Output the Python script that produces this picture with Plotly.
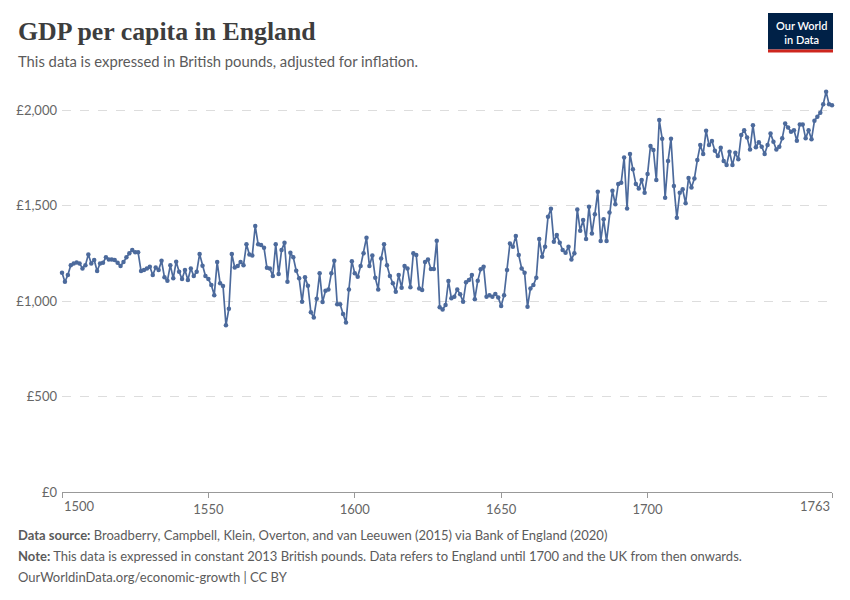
import plotly.graph_objects as go

# ---- data ----
years = list(range(1500, 1764))
gdp_per_capita = [
    1148, 1101, 1136, 1188, 1197, 1202, 1197, 1171, 1188, 1244,
    1197, 1215, 1157, 1197, 1200, 1229, 1218, 1218, 1215, 1200,
    1183, 1205, 1229, 1250, 1267, 1255, 1255, 1157, 1162, 1171,
    1180, 1136, 1176, 1162, 1211, 1124, 1106, 1188, 1119, 1206,
    1153, 1115, 1162, 1110, 1171, 1131, 1153, 1246, 1185, 1131,
    1115, 1084, 1031, 1204, 1093, 1079, 873, 960, 1246, 1176,
    1183, 1204, 1188, 1297, 1244, 1239, 1393, 1297, 1293, 1279,
    1174, 1171, 1131, 1297, 1141, 1267, 1305, 1101, 1253, 1229,
    1159, 1119, 996, 1124, 1080, 941, 914, 1012, 1145, 995,
    1054, 1061, 1145, 1211, 983, 983, 932, 888, 1061, 1209,
    1145, 1127, 1183, 1250, 1332, 1183, 1239, 1122, 1061, 1223,
    1298, 1187, 1131, 1093, 1049, 1136, 1070, 1183, 1171, 1072,
    1250, 1241, 1066, 1058, 1204, 1218, 1168, 1168, 1316, 967,
    956, 979, 1105, 1014, 1023, 1061, 1035, 996, 1099, 1110,
    1136, 1010, 1106, 1166, 1180, 1023, 1031, 1023, 1037, 1019,
    974, 1031, 1162, 1302, 1284, 1340, 1241, 1171, 1148, 970,
    1066, 1084, 1122, 1325, 1232, 1284, 1441, 1483, 1311, 1346,
    1305, 1267, 1253, 1284, 1218, 1250, 1480, 1368, 1424, 1325,
    1494, 1354, 1455, 1572, 1314, 1428, 1314, 1464, 1578, 1507,
    1613, 1620, 1752, 1485, 1770, 1690, 1613, 1590, 1634, 1567,
    1665, 1812, 1791, 1634, 1948, 1850, 1541, 1733, 1850, 1602,
    1436, 1567, 1585, 1512, 1644, 1595, 1642, 1738, 1817, 1770,
    1892, 1817, 1838, 1787, 1759, 1803, 1733, 1712, 1782, 1712,
    1776, 1742, 1869, 1895, 1857, 1794, 1921, 1805, 1831, 1808,
    1770, 1817, 1878, 1834, 1794, 1808, 1852, 1930, 1909, 1886,
    1895, 1839, 1925, 1925, 1852, 1895, 1847, 1944, 1965, 1986,
    2031, 2096, 2030, 2025,
]
x_tick_values = [1500, 1550, 1600, 1650, 1700, 1763]
x_tick_labels = ["1500", "1550", "1600", "1650", "1700", "1763"]
y_tick_values = [0, 500, 1000, 1500, 2000]
y_tick_labels = ["£0", "£500", "£1,000", "£1,500", "£2,000"]

title = "GDP per capita in England"
subtitle = "This data is expressed in British pounds, adjusted for inflation."
source = ("<b>Data source:</b> Broadberry, Campbell, Klein, Overton, and van Leeuwen (2015) "
          "via Bank of England (2020)")
note = ("<b>Note:</b> This data is expressed in constant 2013 British pounds. Data refers to "
        "England until 1700 and the UK from then onwards.")
url = "OurWorldinData.org/economic-growth | CC BY"
logo = "Our World<br>in Data"

# ---- layout geometry ----
W, H = 850, 600
L, R, T, B = 62, 18, 91, 108
PW, PH = W - L - R, H - T - B


def px(x):
    return (x - L) / PW


def py(y):
    return (H - B - y) / PH


LINE = "#4c6a9c"
FONT = "Lato, 'Noto Sans', sans-serif"
GREY = "#5b5b5b"

fig = go.Figure(
    go.Scatter(
        x=years,
        y=gdp_per_capita,
        mode="lines+markers",
        line=dict(color=LINE, width=1.7),
        marker=dict(size=4.5, color=LINE),
        cliponaxis=False,
        hoverinfo="x+y",
    )
)

mid_text = ["" if (i == 0 or i == len(x_tick_labels) - 1) else t
            for i, t in enumerate(x_tick_labels)]

fig.update_xaxes(
    range=[x_tick_values[0], x_tick_values[-1]],
    tickmode="array",
    tickvals=x_tick_values,
    ticktext=mid_text,
    showgrid=False,
    zeroline=False,
    showline=True,
    linecolor="#999999",
    linewidth=1,
    ticks="outside",
    ticklen=5,
    tickcolor="#999999",
    tickfont=dict(family=FONT, size=13, color="#666666"),
)
fig.update_yaxes(
    range=[0, 2100],
    tickmode="array",
    tickvals=y_tick_values,
    ticktext=y_tick_labels,
    showgrid=True,
    gridcolor="#dddddd",
    griddash="dash",
    gridwidth=1,
    zeroline=False,
    showline=False,
    ticks="",
    ticklabelstandoff=4,
    tickfont=dict(family=FONT, size=13, color="#666666"),
)

annotations = [
    dict(text=title, x=px(16), y=py(31), xanchor="left", yanchor="middle",
         font=dict(family="'Liberation Serif', serif", size=25.8, color="#3d3d3d", weight=600)),
    dict(text=subtitle, x=px(16), y=py(61), xanchor="left", yanchor="middle",
         font=dict(family=FONT, size=14.8, color=GREY)),
    dict(text=source, x=px(16), y=py(535), xanchor="left", yanchor="middle",
         font=dict(family=FONT, size=13, color=GREY)),
    dict(text=note, x=px(16), y=py(556), xanchor="left", yanchor="middle",
         font=dict(family=FONT, size=13, color=GREY)),
    dict(text=url, x=px(16), y=py(577), xanchor="left", yanchor="middle",
         font=dict(family=FONT, size=13, color=GREY)),
    dict(text=logo, x=px(801), y=py(32.5), xanchor="center", yanchor="middle",
         align="center",
         font=dict(family=FONT, size=11, color="white", weight=600)),
    # first / last x tick labels aligned to the ends of the axis
    dict(text=x_tick_labels[0], xref="x", x=x_tick_values[0], y=py(506),
         xanchor="left", yanchor="middle",
         font=dict(family=FONT, size=13, color="#666666")),
    dict(text=x_tick_labels[-1], xref="x", x=x_tick_values[-1], y=py(506),
         xanchor="right", yanchor="middle",
         font=dict(family=FONT, size=13, color="#666666")),
]
for a in annotations:
    a.setdefault("xref", "paper")
    a["yref"] = "paper"
    a["showarrow"] = False

shapes = [
    dict(type="rect", xref="paper", yref="paper", x0=px(768), x1=px(833),
         y0=py(49.5), y1=py(13), fillcolor="#002147", line=dict(width=0), layer="above"),
    dict(type="rect", xref="paper", yref="paper", x0=px(768), x1=px(833),
         y0=py(52.5), y1=py(49.5), fillcolor="#ce261e", line=dict(width=0), layer="above"),
]

fig.update_layout(
    width=W,
    height=H,
    margin=dict(l=L, r=R, t=T, b=B, pad=0),
    paper_bgcolor="white",
    plot_bgcolor="white",
    showlegend=False,
    annotations=annotations,
    shapes=shapes,
    font=dict(family=FONT),
)

fig.write_html("out.html")
